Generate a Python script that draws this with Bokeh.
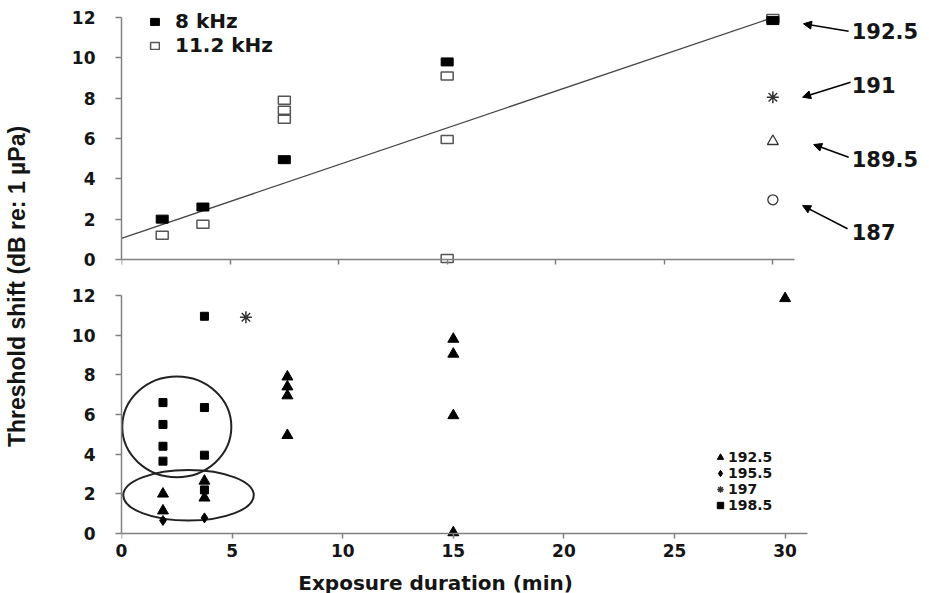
import math
from bokeh.plotting import figure
from bokeh.layouts import row, column
from bokeh.models import (Label, LabelSet, Legend, LegendItem, Arrow, NormalHead,
                          FixedTicker, Range1d, ColumnDataSource, LinearAxis)
from bokeh.core.properties import value
from bokeh.embed import file_html
from bokeh.resources import INLINE

# ---------------- data ----------------
# top panel: threshold shift vs exposure duration (192.5 dB SEL)
dur_8k = [1.875, 3.75, 7.5, 15, 30]
ts_8k = [2.0, 2.6, 4.95, 9.8, 11.85]
dur_11k = [1.875, 3.75, 7.5, 7.5, 7.5, 15, 15, 15, 30]
ts_11k = [1.2, 1.75, 7.9, 7.4, 6.95, 9.1, 5.95, 0.05, 11.95]
trend_x = [0, 30]
trend_y = [1.05, 12.0]
# other exposure levels at 30 min
ast30_x = [30]; ast30_y = [8.05]     # 191
tri30_x = [30]; tri30_y = [5.86]     # 189.5
cir30_x = [30]; cir30_y = [2.96]     # 187
sel_text = ["192.5", "191", "189.5", "187"]
sel_text_y = [11.33, 8.65, 4.98, 1.36]
arrow_x0 = [33.49, 33.58, 33.49, 33.44]
arrow_y0 = [11.32, 8.79, 5.07, 1.52]
arrow_x1 = [31.41, 31.37, 31.88, 31.37]
arrow_y1 = [11.69, 8.05, 5.70, 2.67]

# bottom panel: by SEL level
tri_x = [1.875, 1.875, 3.75, 3.75, 7.5, 7.5, 7.5, 7.5, 15, 15, 15, 15, 30]
tri_y = [2.0, 1.15, 2.65, 1.8, 7.9, 7.4, 6.95, 4.95, 9.8, 9.05, 5.95, 0.05, 11.85]
dia_x = [1.875, 3.75]
dia_y = [0.66, 0.79]
ast_x = [5.625]
ast_y = [10.9]
sq_x = [1.875, 1.875, 1.875, 1.875, 3.75, 3.75, 3.75, 3.75]
sq_y = [6.6, 5.5, 4.4, 3.65, 10.95, 6.35, 3.95, 2.2]
ell_x = [2.5, 3.03]
ell_y = [5.38, 1.93]
ell_w = [4.93, 5.9]
ell_h = [5.08, 2.55]

x_ticks = [0, 5, 10, 15, 20, 25, 30]
y_ticks = [0, 2, 4, 6, 8, 10, 12]

FONT = "DejaVu Sans"
AX = "#808080"
TXT = "#151515"
FIG_W = 881


def style(p):
    p.grid.visible = False
    p.outline_line_color = None
    p.background_fill_color = "white"
    p.border_fill_color = "white"
    xa = p.xaxis[0]
    ya = p.yaxis[0]
    for a in (xa, ya):
        a.axis_line_color = AX
        a.axis_line_width = 1.5
        a.major_tick_line_color = AX
        a.major_tick_line_width = 1.5
        a.minor_tick_line_color = None
        a.major_tick_in = 0
        a.major_label_text_font = FONT
        a.major_label_text_font_style = "bold"
        a.major_label_text_font_size = "17px"
        a.major_label_text_color = TXT
    xa.ticker = FixedTicker(ticks=x_ticks)
    ya.ticker = FixedTicker(ticks=y_ticks)
    xa.bounds = (0, 31)
    ya.bounds = (0, 12)
    xa.fixed_location = 0
    xa.major_tick_out = 5
    ya.major_tick_out = 6
    ya.major_label_standoff = 20
    # line + ticks only on the crossing axis; labels drawn separately
    xa.major_label_text_font_size = "1px"
    xa.major_label_text_color = None
    xa.major_label_standoff = 0


# ---------------- top panel ----------------
top = figure(width=FIG_W, height=283, x_range=Range1d(0, 36.8), y_range=Range1d(-0.4, 12.4),
             output_backend="svg", toolbar_location=None,
             min_border_left=73, min_border_right=9, min_border_top=9, min_border_bottom=16)
style(top)

top.line(trend_x, trend_y, line_color="#444444", line_width=1.3)
r11 = top.rect(dur_11k, ts_11k, width=12, height=8, width_units="screen", height_units="screen",
               fill_color="white", line_color="#555555", line_width=1.5)
r8 = top.rect(dur_8k, ts_8k, width=12, height=8, width_units="screen", height_units="screen",
              fill_color="black", line_color="black", line_width=1)
top.scatter(ast30_x, ast30_y, marker="asterisk", size=12, line_color="#333333", line_width=1.5)
top.scatter(tri30_x, tri30_y, marker="triangle", size=11, fill_color="white",
            line_color="#333333", line_width=1.3)
top.scatter(cir30_x, cir30_y, marker="circle", size=10, fill_color="white",
            line_color="#333333", line_width=1.3)

for x0, y0, x1, y1 in zip(arrow_x0, arrow_y0, arrow_x1, arrow_y1):
    top.add_layout(Arrow(x_start=x0, y_start=y0, x_end=x1, y_end=y1, line_width=1.6,
                         line_color="black",
                         end=NormalHead(size=8, fill_color="black", line_color="black")))

lab_src = ColumnDataSource(dict(x=[33.63] * len(sel_text), y=sel_text_y, t=sel_text))
top.add_layout(LabelSet(x="x", y="y", text="t", source=lab_src, text_font=value(FONT),
                        text_font_style="bold", text_font_size="21px", text_color=TXT,
                        text_baseline="middle", text_align="left"))

leg_top = Legend(items=[LegendItem(label="8 kHz", renderers=[r8]),
                        LegendItem(label="11.2 kHz", renderers=[r11])],
                 location=(28, 210), orientation="vertical",
                 glyph_width=11, glyph_height=9, label_height=20, spacing=0,
                 label_standoff=15, padding=0, margin=0,
                 border_line_color=None, background_fill_alpha=0,
                 label_text_font=FONT, label_text_font_style="bold",
                 label_text_font_size="20px", label_text_color=TXT)
top.add_layout(leg_top)

# ---------------- bottom panel ----------------
bot = figure(width=FIG_W, height=287, x_range=Range1d(0, 36.12), y_range=Range1d(-0.4, 12.4),
             output_backend="svg", toolbar_location=None,
             min_border_left=73, min_border_right=9, min_border_top=4, min_border_bottom=29)
style(bot)

xlab_axis = LinearAxis(ticker=FixedTicker(ticks=x_ticks), axis_line_color=None,
                       major_tick_line_color=None, minor_tick_line_color=None,
                       major_tick_in=0, major_tick_out=0, major_label_standoff=2,
                       major_label_text_font=FONT, major_label_text_font_style="bold",
                       major_label_text_font_size="17px", major_label_text_color=TXT)
bot.add_layout(xlab_axis, "below")

bot.ellipse(ell_x, ell_y, width=ell_w, height=ell_h, fill_color=None,
            line_color="#222222", line_width=2)
rt = bot.scatter(tri_x, tri_y, marker="triangle", size=11, fill_color="black", line_color="black")
rd = bot.scatter(dia_x, dia_y, marker="diamond", size=10, fill_color="black", line_color="black")
ra = bot.scatter(ast_x, ast_y, marker="asterisk", size=12, line_color="#333333", line_width=1.5)
rs = bot.scatter(sq_x, sq_y, marker="square", size=8, fill_color="black", line_color="black")

leg_bot = Legend(items=[LegendItem(label="192.5", renderers=[rt]),
                        LegendItem(label="195.5", renderers=[rd]),
                        LegendItem(label="197", renderers=[ra]),
                        LegendItem(label="198.5", renderers=[rs])],
                 location=(591, 28), orientation="vertical",
                 glyph_width=16, glyph_height=16, label_height=16, spacing=0,
                 label_standoff=0, padding=0, margin=0,
                 border_line_color=None, background_fill_alpha=0,
                 label_text_font=FONT, label_text_font_style="bold",
                 label_text_font_size="14px", label_text_color=TXT)
bot.add_layout(leg_bot)

# ---------------- x label strip ----------------
xlab = figure(width=FIG_W, height=23, x_range=Range1d(0, 36.12), y_range=Range1d(0, 1),
              output_backend="svg", toolbar_location=None, title=None,
              x_axis_location=None, y_axis_location=None,
              min_border_left=73, min_border_right=9, min_border_top=0, min_border_bottom=0)
xlab.grid.visible = False
xlab.outline_line_color = None
xlab.add_layout(Label(x=14.2, y=1, text="Exposure duration (min)", text_font=FONT,
                      text_font_style="bold", text_font_size="20px", text_color=TXT,
                      text_align="center", text_baseline="top"))

# ---------------- y label strip ----------------
ylab = figure(width=48, height=593, x_range=Range1d(0, 48), y_range=Range1d(0, 593),
              output_backend="svg", toolbar_location=None, min_border=0, title=None,
              x_axis_location=None, y_axis_location=None)
ylab.grid.visible = False
ylab.outline_line_color = None
ylab.add_layout(Label(x=16.5, y=593 - 286, text="Threshold shift (dB re: 1 \u00b5Pa)",
                      angle=math.pi / 2, text_font="Liberation Sans", text_font_style="bold",
                      text_font_size="23px", text_color=TXT, text_align="center",
                      text_baseline="middle"))

layout = row(ylab, column(top, bot, xlab))
open("out.html", "w").write(file_html(layout, INLINE))
